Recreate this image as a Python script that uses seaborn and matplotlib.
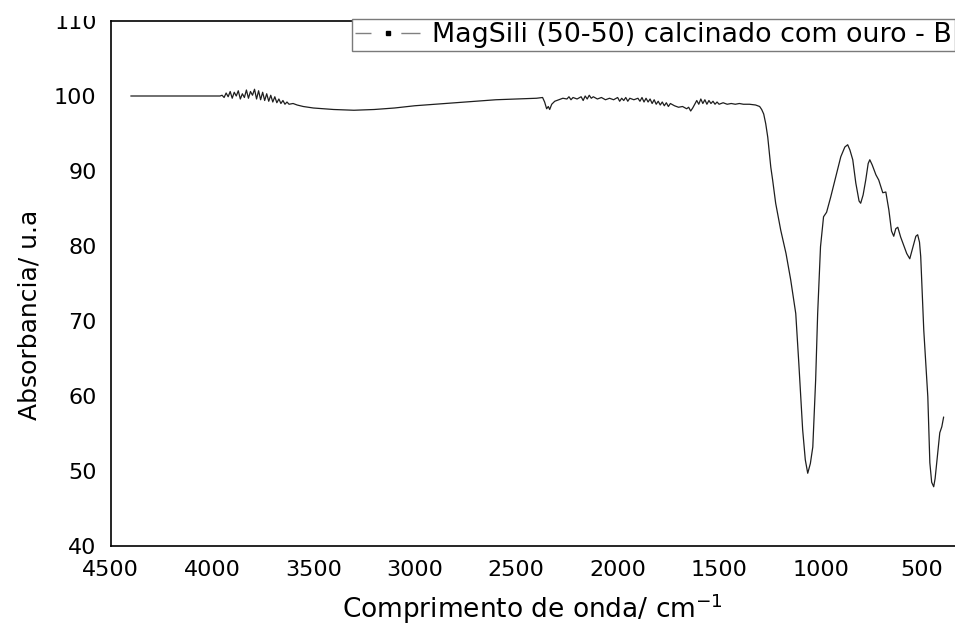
import matplotlib
matplotlib.use("Agg")
import matplotlib.pyplot as plt
from matplotlib.lines import Line2D
from matplotlib.legend_handler import HandlerTuple
from matplotlib.patches import Rectangle
import seaborn as sns
import pandas as pd

# ---- data ----
wavenumber = [
    4400, 4200, 3960,
    3950, 3940, 3930, 3920, 3910, 3900, 3890, 3880, 3870, 3860, 3850, 3840,
    3830, 3820, 3810, 3800, 3790, 3780, 3770, 3760, 3750, 3740, 3730, 3720,
    3710, 3700, 3690, 3680, 3670, 3660, 3650, 3640, 3630, 3620, 3600, 3580,
    3550, 3500, 3400, 3300, 3200, 3100, 3000, 2900, 2800, 2700, 2600, 2500,
    2400, 2370, 2360, 2350, 2342, 2335, 2325, 2310, 2290, 2270, 2250, 2240,
    2230, 2220, 2200, 2180, 2170, 2160, 2150, 2140, 2130, 2120, 2100, 2080,
    2060, 2040, 2020, 2000, 1990, 1980, 1970, 1960, 1950, 1940, 1920, 1900,
    1890, 1880, 1870, 1860, 1850, 1840, 1830, 1820, 1810, 1800, 1790, 1780,
    1770, 1760, 1750, 1740, 1720, 1700, 1680, 1660, 1650, 1640, 1630, 1620,
    1610, 1600, 1590, 1580, 1570, 1560, 1550, 1540, 1530, 1520, 1510, 1500,
    1480, 1460, 1440, 1420, 1400, 1380, 1350, 1320, 1300, 1290, 1280, 1270,
    1260, 1255, 1245, 1236, 1221, 1196, 1170, 1147, 1122, 1107, 1088, 1075,
    1063, 1050, 1038, 1024, 1014, 1000, 985, 970, 950, 925, 900, 880, 866,
    855, 841, 826, 810, 802, 790, 777, 765, 757, 745, 727, 713, 693, 678,
    663, 650, 639, 629, 619, 605, 594, 575, 560, 545, 530, 521, 512, 506,
    491, 471, 461, 452, 442, 435, 427, 412, 402, 393,
]
absorbance = [
    100.0, 100.0, 100.0,
    100.1, 99.8, 100.4, 99.9, 100.6, 99.7, 100.5, 100.0, 100.7, 99.6, 100.3, 99.8,
    100.8, 99.7, 100.6, 100.1, 100.9, 99.6, 100.7, 99.5, 100.5, 99.4, 100.3, 99.3,
    100.1, 99.2, 99.9, 99.1, 99.6, 99.0, 99.4, 98.9, 99.2, 98.9, 99.0, 98.8,
    98.6, 98.4, 98.2, 98.1, 98.2, 98.4, 98.7, 98.9, 99.1, 99.3, 99.5, 99.6,
    99.7, 99.8, 99.2, 98.3, 98.6, 98.2, 98.9, 99.3, 99.5, 99.7, 99.6, 99.9,
    99.5, 99.8, 99.6, 99.9, 99.4, 100.0, 99.6, 100.1, 99.7, 99.9, 99.6, 99.8,
    99.5, 99.7, 99.5, 99.8, 99.3, 99.7, 99.4, 99.8, 99.3, 99.7, 99.5, 99.7,
    99.3, 99.8, 99.2, 99.7, 99.2, 99.6, 99.0, 99.5, 98.9, 99.3, 98.8, 99.2,
    98.7, 99.1, 98.6, 99.0, 98.7, 98.5, 98.6, 98.3, 98.5, 98.0, 98.4, 98.9,
    99.4, 98.9, 99.6, 99.0, 99.5, 98.9, 99.4, 99.0, 99.3, 98.9, 99.2, 98.9,
    99.1, 98.9, 99.0, 98.9, 99.0, 98.9, 98.9, 98.8, 98.6, 98.2, 97.6, 96.3,
    94.5, 93.2, 90.5, 88.8, 85.7, 82.1, 79.0, 75.5, 71.0, 64.4, 55.5, 51.5,
    49.7, 51.0, 53.2, 62.1, 71.0, 79.9, 83.9, 84.5, 86.5, 89.2, 91.9, 93.2, 93.5,
    92.8, 91.5, 88.4, 86.0, 85.7, 86.8, 88.8, 91.0, 91.5, 90.8, 89.5, 88.8, 87.1, 87.2,
    84.8, 82.0, 81.3, 82.3, 82.5, 81.2, 80.4, 79.0, 78.3, 79.8, 81.3, 81.5, 80.5, 78.6,
    68.8, 59.9, 51.1, 48.5, 47.9, 49.0, 51.1, 55.1, 55.9, 57.2,
]
series_label = "MagSili (50-50) calcinado com ouro - B"
x_ticks = [4500, 4000, 3500, 3000, 2500, 2000, 1500, 1000, 500]
y_ticks = [40, 50, 60, 70, 80, 90, 100, 110]
x_title = "Comprimento de onda/ cm$^{-1}$"
y_title = "Absorbancia/ u.a"

df = pd.DataFrame({"wavenumber": wavenumber, "absorbance": absorbance})

sns.set_theme(style="white")
plt.rcParams["font.family"] = ["DejaVu Sans"]

fig = plt.figure(figsize=(9.55, 6.25), dpi=100)
ax = fig.add_axes([110.5 / 955, 1 - 546 / 625, 1 - 110.5 / 955, (546 - 21) / 625])

sns.lineplot(data=df, x="wavenumber", y="absorbance", ax=ax,
             color="#1e1e1e", linewidth=0.9, legend=False,
             estimator=None, sort=False)

ax.set_xlim(4500, 337)
ax.set_ylim(40, 110)
ax.set_xticks(x_ticks)
ax.set_yticks(y_ticks)
ax.tick_params(axis="both", length=0, labelsize=16, colors="black", pad=10)

for side in ("left", "top", "bottom"):
    ax.spines[side].set_visible(True)
    ax.spines[side].set_color("black")
    ax.spines[side].set_linewidth(1.2)
ax.spines["right"].set_visible(False)

ax.set_xlabel(x_title, fontsize=19, color="black", labelpad=8)
ax.set_ylabel(y_title, fontsize=18, color="black")
ax.yaxis.set_label_coords(-0.082, 0.44)

# legend handle: grey line with a gap and a black square dot in the middle
h_line = Line2D([], [], color="#808080", linewidth=1.0,
                linestyle=(0, (11.5, 21.5, 14, 5)))
h_dot = Line2D([], [], linestyle="none", marker="s", markersize=3.2,
               markerfacecolor="black", markeredgecolor="black")
leg = ax.legend(handles=[(h_line, h_dot)], labels=[series_label],
                handler_map={tuple: HandlerTuple(ndivide=1, pad=0)},
                loc="upper right", bbox_to_anchor=(1.0, 1.004),
                borderaxespad=0, fontsize=19.4, frameon=True, fancybox=False,
                framealpha=1, edgecolor="#7a7a7a", borderpad=0.12,
                handlelength=2.4, handletextpad=0.45)
leg.get_frame().set_linewidth(1.0)
for t in leg.get_texts():
    t.set_color("black")

# the top of the reference image is trimmed, hiding the top of the "110" label
fig.patches.append(Rectangle((0, 1 - 16 / 625), 100 / 955, 16 / 625,
                             transform=fig.transFigure, facecolor="white",
                             edgecolor="none", zorder=10))

fig.savefig("out.png", dpi=100)
